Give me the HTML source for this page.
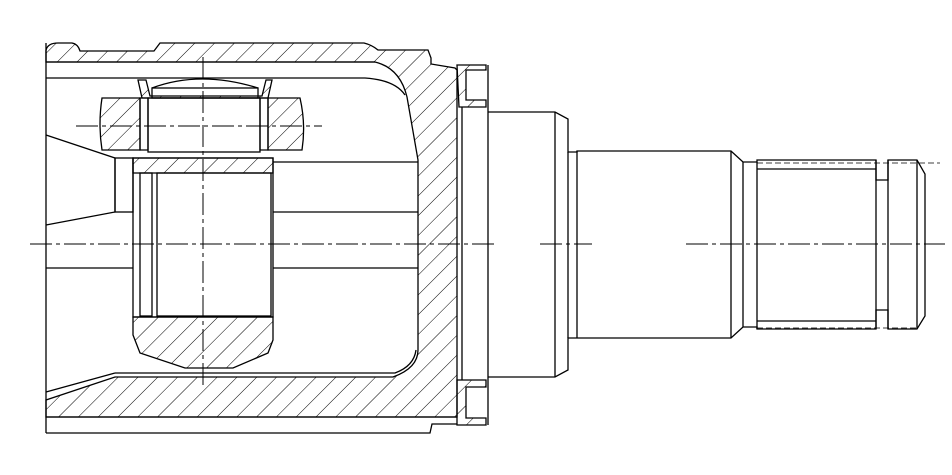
<!DOCTYPE html>
<html><head><meta charset="utf-8"><style>html,body{margin:0;padding:0;background:#fff}svg{display:block}</style></head>
<body>
<svg width="952" height="475" viewBox="0 0 952 475" xmlns="http://www.w3.org/2000/svg">
<defs>
<pattern id="h" patternUnits="userSpaceOnUse" width="14" height="14" patternTransform="rotate(45)">
<line x1="0" y1="0" x2="0" y2="14" stroke="#000" stroke-width="1"/>
</pattern>
</defs>
<g fill="none" stroke="#000" stroke-width="1.3">
<path d="M46,62 L46,50 Q48,43 58,43 L72,43 Q78,44 80,51 L154,51 L160,43 L364,43 Q372,45 378,50 L428,50 L431,58 L431,64 L455,68 L457,70 L457,417 L46,417 L46,400 L115,377 L393,377 Q418,368 418,350 L418,160 L407,97 Q400,68 375,62 Z" fill="url(#h)"/>
<path d="M46,43 L46,433 M46,417 L457,417 M46,433 L430,433 L432,424 L457,424" />
<path d="M46,62 L375,62" />
<path d="M46,78 L365,78 Q395,80 405,95" />
<path d="M115,373 L395,373 Q414,366 416,350" />
<path d="M46,392 L115,373" />
<path d="M462,107 L462,380 M488,65 L488,425" />
<path d="M457,65 L486,65 L486,70 L466,70 L466,100 L486,100 L486,107 L459,107 Z" fill="url(#h)"/>
<path d="M457,380 L486,380 L486,387 L466,387 L466,418 L486,418 L486,425 L457,425 Z" fill="url(#h)"/>
<path d="M488,112 L555,112 L568,119 L568,152 L577,152 L577,151 L731,151 L743,162 L757,162 L757,160 L876,160 L876,180 L888,180 L888,160 L917,160 L925,174 L925,316 L917,329 L888,329 L888,310 L876,310 L876,329 L757,329 L757,327 L743,327 L731,338 L577,338 L568,338 L568,370 L555,377 L488,377" />
<path d="M555,112 L555,377 M568,152 L568,338 M577,151 L577,338 M731,151 L731,338 M743,162 L743,327 M757,162 L757,329 M876,160 L876,329 M888,160 L888,329 M917,160 L917,329" />
<path d="M757,169 L876,169 M757,321 L876,321" />
<path d="M757,163 L940,163 M757,328 L917,328" stroke-dasharray="6,3" stroke-width="0.8"/>
<path d="M102,98 L140,98 L140,150 L102,150 Q98,124 102,98 Z" fill="url(#h)"/>
<path d="M268,98 L300,98 Q306,124 302,150 L268,150 Z" fill="url(#h)"/>
<path d="M140,98 L148,98 L148,150 L140,150 Z M260,98 L268,98 L268,150 L260,150 Z" />
<path d="M138,80 L146,80 L150,96 L262,96 L266,80 L272,80 L268,98 L142,98 Z" fill="url(#h)"/>
<path d="M152,88 Q200,70 258,88" />
<rect x="152" y="88" width="106" height="10" />
<rect x="148" y="98" width="112" height="54" />
<path d="M133,158 L273,158 L273,173 L133,173 Z" fill="url(#h)"/>
<rect x="133" y="158" width="140" height="159"/>
<path d="M133,317 L273,317 L273,340 L268,353 L233,368 L185,368 L140,353 L133,335 Z" fill="url(#h)"/>
<rect x="140" y="173" width="12" height="143"/>
<rect x="157" y="173" width="114" height="143"/>
<path d="M46,135 L115,158 L115,212 L46,225" />
<rect x="115" y="158" width="18" height="54"/>
<path d="M273,162 L418,162 M273,212 L418,212 M46,268 L133,268 M273,268 L418,268" />
<path d="M30,244 L497,244 M540,244 L592,244 M686,244 L945,244" stroke-dasharray="22,4,4,4" stroke-width="1"/>
<path d="M203,57 L203,385" stroke-dasharray="22,4,4,4" stroke-width="1"/>
<path d="M76,126 L322,126" stroke-dasharray="22,4,4,4" stroke-width="1"/>
</g>
</svg>
</body></html>
